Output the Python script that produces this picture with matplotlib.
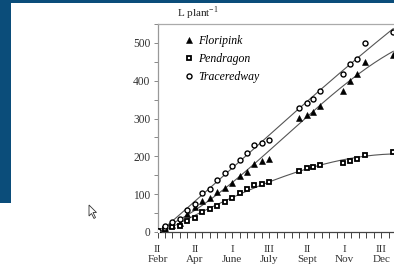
import numpy as np
import matplotlib
matplotlib.use("Agg")
import matplotlib.pyplot as plt
from matplotlib.patches import Rectangle, Polygon
from matplotlib.lines import Line2D
from matplotlib.ticker import MultipleLocator

plt.rcParams['font.family'] = ['Liberation Serif', 'DejaVu Serif']

# x positions in ten-day periods (0 = Febr II)
t_early = [0, 1, 2, 3, 4, 5, 6, 7, 8, 9, 10, 11, 12, 13, 14, 15]
t_late = [19, 20, 20.8, 21.8, 24.8, 25.8, 26.8, 27.8, 31.6]

floripink = [3, 11, 18, 25, 48, 66, 81, 89, 107, 116, 130, 147, 159, 181, 187, 194,
             301, 310, 317, 334, 374, 400, 419, 449, 468]
pendragon = [2, 8, 12, 16, 30, 38, 54, 61, 69, 80, 91, 104, 113, 124, 128, 132,
             162, 170, 173, 177, 183, 188, 192, 204, 212]
traceredway = [2, 16, 26, 35, 57, 75, 103, 114, 138, 155, 175, 191, 210, 230, 236, 243,
               329, 342, 352, 374, 418, 444, 458, 499, 530]

tick_pos = [0, 5, 10, 15, 20, 25, 30]
tick_labels = ["II\nFebr", "II\nApr", "I\nJune", "III\nJuly", "II\nSept", "I\nNov", "III\nDec"]

W, H = 394, 270
fig = plt.figure(figsize=(W / 100, H / 100), dpi=100)
fig.patch.set_facecolor("white")

# screenshot frame bits
blue = "#0b4d7a"
fig.add_artist(Rectangle((0, 1 - 3 / H), 1, 3 / H, transform=fig.transFigure,
                         facecolor=blue, edgecolor="none"))
fig.add_artist(Rectangle((0, 1 - 203 / H), 11 / W, 203 / H, transform=fig.transFigure,
                         facecolor=blue, edgecolor="none"))
cur = np.array([[89, 205], [89, 216], [91.5, 213.5], [94, 218.5], [95.5, 217.5],
                [93, 212.5], [96.5, 212.5]])
fig.add_artist(Polygon(np.c_[cur[:, 0] / W, 1 - cur[:, 1] / H], closed=True,
                       transform=fig.transFigure, facecolor="white",
                       edgecolor="#333333", linewidth=0.6))

ax = fig.add_axes([157.5 / W, 1 - 232 / H, 34 * 7.46 / W, 208 / H])
t = np.array(t_early + t_late, dtype=float)

series = [
    (floripink, dict(marker="^", ms=3.8, mfc="black", mec="black", mew=0.4)),
    (pendragon, dict(marker="s", ms=3.4, mfc="white", mec="black", mew=1.3)),
    (traceredway, dict(marker="o", ms=3.6, mfc="white", mec="black", mew=1.0)),
]
tt = np.linspace(0, t.max(), 200)
for vals, style in series:
    coef = np.polyfit(t, vals, 3)
    ax.plot(tt, np.polyval(coef, tt), color="#555555", lw=0.8, zorder=2)
    ax.plot(t, vals, ls="none", zorder=3, **style)

ax.set_xlim(0, 34)
ax.set_ylim(0, 550)
ax.set_xticks(tick_pos)
ax.set_xticklabels(tick_labels, fontsize=8, linespacing=1.15, color="#333333")
ax.xaxis.set_minor_locator(MultipleLocator(1))
ax.yaxis.set_major_locator(MultipleLocator(100))
ax.yaxis.set_minor_locator(MultipleLocator(50))
ax.tick_params(axis="x", which="both", direction="out", length=4.5, width=0.7,
               color="#444444", pad=4.5)
ax.tick_params(axis="y", which="both", direction="out", length=3, width=0.7,
               color="#888888", labelsize=8.3, labelcolor="#333333", pad=2)
ax.spines["right"].set_visible(False)
ax.spines["left"].set_color("#999999")
ax.spines["top"].set_color("#aaaaaa")
ax.spines["bottom"].set_color("#444444")
for s in ax.spines.values():
    s.set_linewidth(0.9)

fig.text(177 / W, 1 - 13 / H, r"L plant$^{\mathregular{-1}}$", fontsize=8,
         va="center", ha="left", color="#222222")

handles = [Line2D([], [], ls="none", **style) for _, style in series]
ax.legend(handles, ["Floripink", "Pendragon", "Traceredway"], loc="upper left",
          bbox_to_anchor=(0.095, 0.97), frameon=False, handlelength=0.5,
          handletextpad=0.5, labelspacing=0.5, borderaxespad=0,
          prop={"style": "italic", "size": 8.5})

fig.savefig("out.png", dpi=100)
